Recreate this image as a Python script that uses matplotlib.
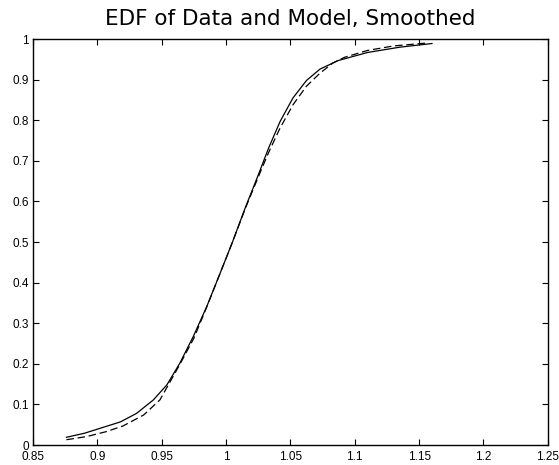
import matplotlib
matplotlib.use('Agg')
import matplotlib.pyplot as plt

# EDF of the data (solid) and of the smoothed model (dashed)
data_x = [0.876, 0.890, 0.902, 0.918, 0.9305, 0.9435, 0.954, 0.964, 0.9745, 0.985,
          0.995, 1.005, 1.015, 1.025, 1.033, 1.042, 1.052, 1.0625, 1.073, 1.087,
          1.110, 1.135, 1.160]
data_y = [0.019, 0.029, 0.041, 0.057, 0.078, 0.111, 0.148, 0.201, 0.267, 0.341,
          0.420, 0.500, 0.585, 0.665, 0.731, 0.797, 0.855, 0.898, 0.926, 0.947,
          0.967, 0.980, 0.989]

model_x = [0.876, 0.892, 0.907, 0.920, 0.936, 0.9486, 0.958, 0.964, 0.975, 0.985,
           0.995, 1.005, 1.015, 1.025, 1.033, 1.042, 1.052, 1.0625, 1.073, 1.083,
           1.092, 1.110, 1.130, 1.155]
model_y = [0.013, 0.021, 0.033, 0.047, 0.074, 0.111, 0.164, 0.198, 0.263, 0.340,
           0.420, 0.500, 0.583, 0.660, 0.720, 0.781, 0.838, 0.884, 0.916, 0.941,
           0.955, 0.972, 0.983, 0.990]

xticks = [0.85, 0.9, 0.95, 1, 1.05, 1.1, 1.15, 1.2, 1.25]
xticklabels = ['0.85', '0.9', '0.95', '1', '1.05', '1.1', '1.15', '1.2', '1.25']
yticks = [0, 0.1, 0.2, 0.3, 0.4, 0.5, 0.6, 0.7, 0.8, 0.9, 1]
yticklabels = ['0', '0.1', '0.2', '0.3', '0.4', '0.5', '0.6', '0.7', '0.8', '0.9', '1']

plt.rcParams['font.family'] = ['Liberation Sans', 'DejaVu Sans']

fig = plt.figure(figsize=(5.59, 4.65), dpi=100)
ax = fig.add_axes([0.059, 0.043, 0.921, 0.873])

ax.plot(data_x, data_y, color='black', linewidth=0.9)
ax.plot(model_x, model_y, color='black', linewidth=0.9, linestyle=(0, (6, 3)))

ax.set_xlim(0.85, 1.25)
ax.set_ylim(0, 1)
ax.set_xticks(xticks)
ax.set_xticklabels(xticklabels)
ax.set_yticks(yticks)
ax.set_yticklabels(yticklabels)
ax.tick_params(direction='in', top=True, right=True, length=4, width=0.8,
               labelsize=8.5)
ax.tick_params(axis='y', pad=3)
ax.tick_params(axis='x', pad=4)
for s in ax.spines.values():
    s.set_linewidth(1.0)

ax.set_title('EDF of Data and Model, Smoothed', fontsize=15.5, pad=10,
             family=['DejaVu Sans'])

fig.savefig('out.png', dpi=100)
